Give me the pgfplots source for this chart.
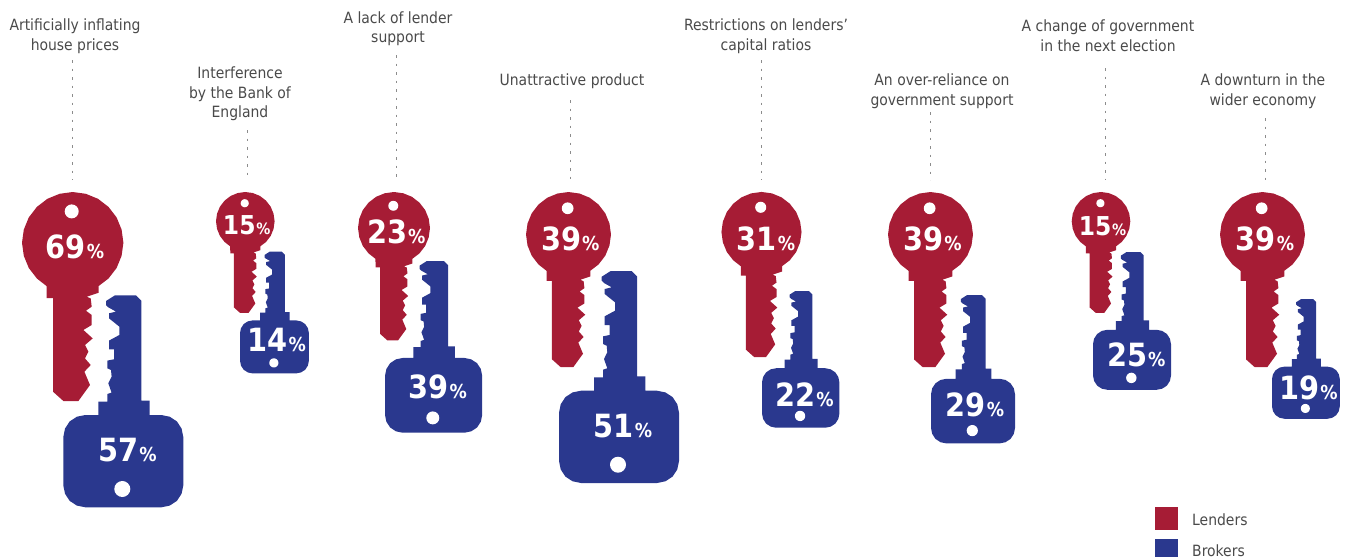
\documentclass[border=0pt]{standalone}
\usepackage{fontspec}
\setmainfont{DejaVu Sans Condensed}
\usepackage{pgfplots}
\usepackage{pgfplotstable}
\pgfplotsset{compat=1.18}

\definecolor{lenderred}{HTML}{A61C35}
\definecolor{brokerblue}{HTML}{2A388E}
\definecolor{labelgrey}{HTML}{4A4A4A}
\definecolor{leadergrey}{HTML}{8C8C8C}

% Round-headed key outline, offsets from the centre of the head
\pgfplotstableread{
dx dy
-26.1 43.4
-35.8 35.8
-43.9 25.3
-48.9 13.1
-50.7 0
-48.9 -13.1
-43.9 -25.3
-35.8 -35.8
-25.3 -43.9
-13.1 -48.9
0 -50.7
13.1 -48.9
25.3 -43.9
35.8 -35.8
43.9 -25.3
48.9 -13.1
50.7 0
48.9 13.1
43.9 25.3
35.8 35.8
26 43.3
26 50
14 54
18 55.7
19 64
13.3 68
19 72.3
19 82.3
10.7 87.3
20 95.7
12.3 102.3
15.7 109
12.3 115.7
18 122.3
11.7 129
17.3 142.3
5.7 158.3
-9.3 158.3
-19.7 149
-19.7 55.3
-26 55.3
}\lendershape

% Square-headed key outline, offsets from the left edge of the head and the top of the blade
\pgfplotstableread{
dx dy
51.7 0
72.7 0
78 5.3
78 105.3
86.3 105.3
86.3 119.7
98 119.7
106.4 121.4
113.6 126.1
118.3 133.3
120 141.7
120 190
118.3 198.4
113.6 205.6
106.4 210.3
98 212
22 212
13.6 210.3
6.4 205.6
1.7 198.4
0 190
0 141.7
1.7 133.3
6.4 126.1
13.6 121.4
22 119.7
35 119.7
35 106.3
44 106.3
44 98.7
48.3 97.3
45 88
48.3 81.3
47.7 74.7
44 73
44 65.3
50.7 64
50.7 54
45.7 54
45.7 45.3
56 39.7
56 31.3
45.7 23
45.7 18
52.7 16.3
45 12
42.7 9.7
42.7 5.7
}\brokershape

% Key-ring hole on the unit circle
\pgfplotstableread{
ux uy
1 0
.924 .383
.707 .707
.383 .924
0 1
-.383 .924
-.707 .707
-.924 .383
-1 0
-.924 -.383
-.707 -.707
-.383 -.924
0 -1
.383 -.924
.707 -.707
.924 -.383
}\holeshape

% #1 head centre x, #2 head centre y, #3 scale, #4 value, #5 label centre x, #6 label baseline, #7 font size
\newcommand{\lenderkey}[7]{%
  \addplot[fill=lenderred,draw=none] table[x expr={#1+#3*\thisrow{dx}},y expr={#2+#3*\thisrow{dy}}] {\lendershape} --cycle;
  \addplot[fill=white,draw=none] table[x expr={#1+#3*(-1+7*\thisrow{ux})},y expr={#2+#3*(-31.3+7*\thisrow{uy})}] {\holeshape} --cycle;
  \valuelabel{#4}{#5}{#6}{#7}%
}
% #1 head left x, #2 blade top y, #3 scale, then as above
\newcommand{\brokerkey}[7]{%
  \addplot[fill=brokerblue,draw=none] table[x expr={#1+#3*\thisrow{dx}},y expr={#2+#3*\thisrow{dy}}] {\brokershape} --cycle;
  \addplot[fill=white,draw=none] table[x expr={#1+#3*(59+8*\thisrow{ux})},y expr={#2+#3*(193.7+8*\thisrow{uy})}] {\holeshape} --cycle;
  \valuelabel{#4}{#5}{#6}{#7}%
}
% The percent sign is set at six tenths of the size of the digits
\newcommand{\valuelabel}[4]{%
  \node[anchor=base,inner sep=0pt,text=white] at (axis cs:#2,#3)
    {\pgfmathsetmacro\pctsize{0.6*#4}\fontsize{#4}{#4}\selectfont\bfseries #1\kern0.8pt\fontsize{\pctsize}{\pctsize}\selectfont\%};%
}
% #1 x, #2 y start, #3 y end
\newcommand{\leader}[3]{%
  \addplot[leadergrey,line width=0.9pt,dash pattern=on 2.5pt off 6pt] coordinates {(#1,#2) (#1,#3)};%
}
% #1 centre x, #2 centre y, #3 text
\newcommand{\keycaption}[3]{%
  \node[align=center,inner sep=0pt,text=labelgrey,font=\fontsize{15.5}{19.5}\selectfont] at (axis cs:#1,#2) {#3};%
}

\begin{document}
\begin{tikzpicture}
\begin{axis}[
  scale only axis,
  width=1349pt,height=557pt,
  xmin=0,xmax=1349,ymin=0,ymax=557,
  y dir=reverse,
  hide axis,
  clip=false,
]
\path (axis cs:0,0) rectangle (axis cs:1349,557);

\leader{72.7}{60}{180}
\leader{247.7}{130}{180}
\leader{396}{55}{180}
\leader{570}{100}{180}
\leader{761}{60}{180}
\leader{930}{112}{180}
\leader{1105}{68}{180}
\leader{1265}{118}{180}

\keycaption{75}{36}{Artificially inflating\\house prices}
\keycaption{240}{94}{Interference\\by the Bank of\\England}
\keycaption{398}{28.5}{A lack of lender\\support}
\keycaption{572}{81.5}{Unattractive product}
\keycaption{766}{36}{Restrictions on lenders’\\capital ratios}
\keycaption{942}{91}{An over-reliance on\\government support}
\keycaption{1108}{35.5}{A change of government\\in the next election}
\keycaption{1263}{91}{A downturn in the\\wider economy}

\lenderkey{72.7}{242.7}{1}{69}{75}{258.3}{32}
\lenderkey{245.3}{221.3}{.578}{15}{246.7}{234.3}{26}
\lenderkey{394}{228}{.71}{23}{396.3}{243.3}{32}
\lenderkey{568.5}{234.5}{.838}{39}{570.3}{250}{32}
\lenderkey{761.5}{232}{.79}{31}{766}{250}{32}
\lenderkey{930.5}{234.5}{.838}{39}{932.7}{250}{32}
\lenderkey{1101}{221.3}{.578}{15}{1102.5}{235}{26}
\lenderkey{1262.5}{234.5}{.838}{39}{1265}{250}{32}

\brokerkey{63.3}{295.3}{1}{57}{127.7}{461}{32}
\brokerkey{240}{251.7}{.574}{14}{276.8}{351}{32}
\brokerkey{385}{261}{.81}{39}{437.8}{398.3}{32}
\brokerkey{559}{271}{1}{51}{623}{437.3}{32}
\brokerkey{762}{291}{.645}{22}{804.5}{406.7}{32}
\brokerkey{931}{295}{.70}{29}{975}{416}{32}
\brokerkey{1093}{252}{.65}{25}{1136.3}{366.7}{32}
\brokerkey{1272}{299}{.565}{19}{1308.6}{399.3}{32}

% Legend
\addplot[fill=lenderred,draw=none] coordinates {(1155,507) (1178,507) (1178,530) (1155,530)} --cycle;
\addplot[fill=brokerblue,draw=none] coordinates {(1155,539) (1178,539) (1178,557) (1155,557)} --cycle;
\node[anchor=base west,inner sep=0pt,text=labelgrey,font=\fontsize{15.5}{19}\selectfont] at (axis cs:1192,525) {Lenders};
\node[anchor=base west,inner sep=0pt,text=labelgrey,font=\fontsize{15.5}{19}\selectfont] at (axis cs:1192,556) {Brokers};
\end{axis}
\end{tikzpicture}
\end{document}
